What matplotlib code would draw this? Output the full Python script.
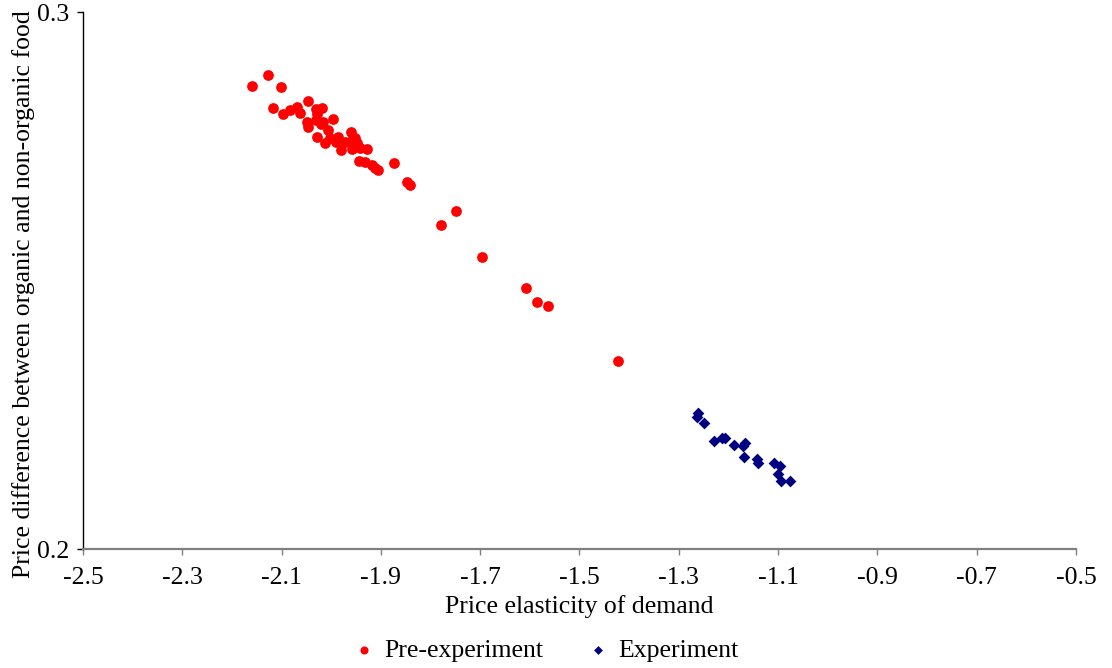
import matplotlib
matplotlib.use('Agg')
import matplotlib.pyplot as plt

# Pre-experiment observations (elasticity, price difference)
pre_x = [-2.160, -2.127, -2.101, -2.117, -2.097, -2.083, -2.069, -2.063, -2.047, -2.049,
         -2.047, -2.031, -2.019, -2.029, -2.031, -2.017, -2.021, -1.996, -2.007, -2.029,
         -2.013, -2.003, -1.986, -1.990, -1.980, -1.972, -1.960, -1.958, -1.952, -1.948,
         -1.958, -1.942, -1.928, -1.944, -1.932, -1.918, -1.912, -1.906, -1.874, -1.847,
         -1.841, -1.749, -1.779, -1.696, -1.608, -1.586, -1.563, -1.422]
pre_y = [0.2862, 0.2883, 0.2860, 0.2821, 0.2810, 0.2818, 0.2823, 0.2812, 0.2834, 0.2795,
         0.2786, 0.2819, 0.2821, 0.2810, 0.2799, 0.2795, 0.2791, 0.2801, 0.2780, 0.2767,
         0.2756, 0.2765, 0.2767, 0.2758, 0.2743, 0.2758, 0.2777, 0.2762, 0.2765, 0.2756,
         0.2745, 0.2747, 0.2745, 0.2723, 0.2721, 0.2715, 0.2709, 0.2706, 0.2719, 0.2683,
         0.2678, 0.2629, 0.2603, 0.2544, 0.2486, 0.2460, 0.2453, 0.2350]

# Experiment observations
exp_x = [-1.261, -1.264, -1.249, -1.229, -1.212, -1.206, -1.189, -1.167, -1.170, -1.169,
         -1.143, -1.140, -1.108, -1.096, -1.100, -1.095, -1.075]
exp_y = [0.2254, 0.2246, 0.2234, 0.2201, 0.2207, 0.2206, 0.2194, 0.2197, 0.2192, 0.2172,
         0.2167, 0.2160, 0.2161, 0.2155, 0.2140, 0.2127, 0.2127]

x_ticks = [-2.5, -2.3, -2.1, -1.9, -1.7, -1.5, -1.3, -1.1, -0.9, -0.7, -0.5]
y_ticks = [0.2, 0.3]

plt.rcParams['font.family'] = ['Liberation Serif', 'DejaVu Serif']

fig = plt.figure(figsize=(11.12, 6.68), dpi=100)
ax = fig.add_axes([0.0746, 0.178, 0.8930, 0.804])

ax.scatter(pre_x, pre_y, s=60, color='#FF0000', marker='o', linewidths=0,
           label='Pre-experiment', zorder=3)
ax.scatter(exp_x, exp_y, s=36, color='#000080', marker='D', linewidths=0,
           label='Experiment', zorder=3)

ax.set_xlim(-2.5, -0.5)
ax.set_ylim(0.2, 0.3)
ax.set_xticks(x_ticks)
ax.set_xticklabels([f'{t:.1f}' for t in x_ticks])
ax.set_yticks(y_ticks)
ax.set_yticklabels(['0.2', '0.3'])

for side in ['top', 'right']:
    ax.spines[side].set_visible(False)
ax.spines['left'].set_color('black')
ax.spines['left'].set_linewidth(1.0)
ax.spines['bottom'].set_color('#808080')
ax.spines['bottom'].set_linewidth(1.6)
ax.spines['bottom'].set_zorder(4)
ax.tick_params(axis='x', direction='out', length=4, width=1.0, color='#808080',
               labelsize=18.5, pad=9)
ax.tick_params(axis='y', direction='out', length=4, width=1.0, color='black',
               labelsize=18.5, pad=6)

ax.set_xlabel('Price elasticity of demand', fontsize=18.5, labelpad=4)
ax.set_ylabel('Price difference between organic and non-organic food', fontsize=18.5)
ax.yaxis.set_label_coords(-0.048, 0.475)

fig.legend(loc='lower center', ncol=2, frameon=False, fontsize=18.5,
           bbox_to_anchor=(0.490, -0.026), handlelength=1.0, handletextpad=0.3,
           columnspacing=1.6, markerscale=0.75)

fig.savefig('out.png', dpi=100)
